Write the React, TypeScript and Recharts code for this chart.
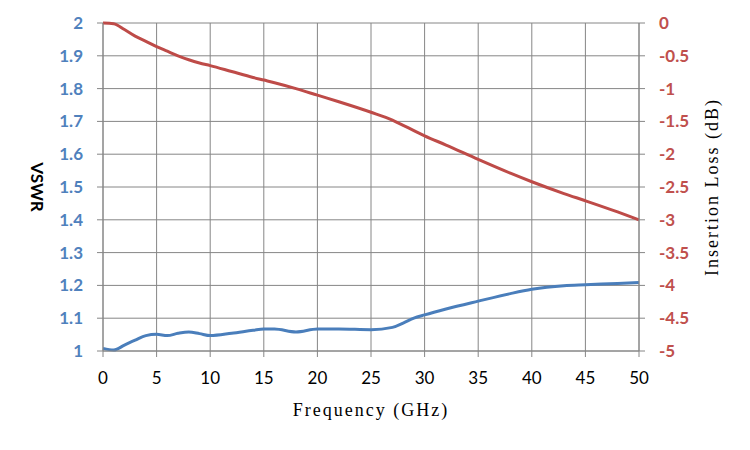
import { LineChart, Line, XAxis, YAxis, CartesianGrid } from "recharts";

const freqs = [0, 1, 2, 3, 4, 5, 6, 7, 8, 9, 10, 12, 14, 15, 16, 18, 20, 22, 25, 27, 28, 29, 30, 32, 35, 38, 40, 43, 45, 48, 50];
const vswr = [1.008, 1.003, 1.018, 1.033, 1.047, 1.051, 1.047, 1.054, 1.058, 1.053, 1.047, 1.054, 1.063, 1.067, 1.067, 1.058, 1.067, 1.067, 1.065, 1.072, 1.085, 1.1, 1.11, 1.128, 1.152, 1.175, 1.188, 1.199, 1.202, 1.206, 1.209];
const insertionLoss = [0, -0.01, -0.1, -0.2, -0.28, -0.36, -0.43, -0.5, -0.56, -0.61, -0.65, -0.74, -0.83, -0.87, -0.91, -1.0, -1.1, -1.2, -1.36, -1.48, -1.56, -1.64, -1.72, -1.86, -2.08, -2.29, -2.42, -2.6, -2.71, -2.88, -3.0];

const freqTicks = [0, 5, 10, 15, 20, 25, 30, 35, 40, 45, 50];
const vswrTicks = [1, 1.1, 1.2, 1.3, 1.4, 1.5, 1.6, 1.7, 1.8, 1.9, 2];
const lossTicks = [0, -0.5, -1, -1.5, -2, -2.5, -3, -3.5, -4, -4.5, -5];

const data = freqs.map((f, i) => ({ freq: f, vswr: vswr[i], loss: insertionLoss[i] }));

const GRID = "#868686";
const BLUE = "#4a7ebb";
const RED = "#be4b48";
// serif font spaced out to look like the monospace mincho of the original
const TITLE_FONT = { fontFamily: "Liberation Serif", fontSize: 18, letterSpacing: 2 };

const App = () => {
  return (
    <div style={{ position: "absolute", left: 0, top: 0, width: 750, height: 450, background: "#fff" }}>
      <LineChart width={750} height={450} data={data} margin={{ top: 23, right: 0, left: 0, bottom: 0 }}>
        <CartesianGrid yAxisId="left" stroke={GRID} strokeWidth={1} />
        <XAxis
          dataKey="freq"
          type="number"
          domain={[0, 50]}
          ticks={freqTicks}
          height={99}
          tickSize={6}
          tickMargin={15}
          stroke={GRID}
          tick={{ fill: "#000", fontSize: 17, fontFamily: "Lato" }}
          label={(props: any) => {
            const vb = props.viewBox;
            return (
              <text x={vb.x + vb.width / 2} y={vb.y + 65} textAnchor="middle" {...TITLE_FONT} fill="#000">
                Frequency (GHz)
              </text>
            );
          }}
        />
        <YAxis
          yAxisId="left"
          domain={[1, 2]}
          ticks={vswrTicks}
          width={103}
          tickSize={6}
          tickMargin={14}
          stroke={GRID}
          interval={0}
          tick={{ fill: "#4f81bd", fontSize: 17, fontFamily: "Lato", fontWeight: "bold" }}
          label={(props: any) => {
            const vb = props.viewBox;
            const cx = 37;
            const cy = vb.y + vb.height / 2;
            return (
              <text x={cx} y={cy} transform={`rotate(90, ${cx}, ${cy})`} textAnchor="middle" dominantBaseline="central" fontFamily="Lato" fontWeight="bold" fontSize={17} fill="#000">
                VSWR
              </text>
            );
          }}
        />
        <YAxis
          yAxisId="right"
          orientation="right"
          domain={[-5, 0]}
          ticks={lossTicks}
          width={111}
          tickSize={6}
          tickMargin={14}
          stroke={GRID}
          interval={0}
          tick={{ fill: "#c0504d", fontSize: 17, fontFamily: "Lato", fontWeight: "bold" }}
          label={(props: any) => {
            const vb = props.viewBox;
            const cx = vb.x + 73;
            const cy = vb.y + vb.height / 2;
            return (
              <text x={cx} y={cy} transform={`rotate(-90, ${cx}, ${cy})`} textAnchor="middle" dominantBaseline="central" {...TITLE_FONT} fill="#000">
                Insertion Loss (dB)
              </text>
            );
          }}
        />
        <Line yAxisId="left" type="monotone" dataKey="vswr" stroke={BLUE} strokeWidth={3} dot={false} isAnimationActive={false} />
        <Line yAxisId="right" type="monotone" dataKey="loss" stroke={RED} strokeWidth={3} dot={false} isAnimationActive={false} />
      </LineChart>
    </div>
  );
};

export default App;
